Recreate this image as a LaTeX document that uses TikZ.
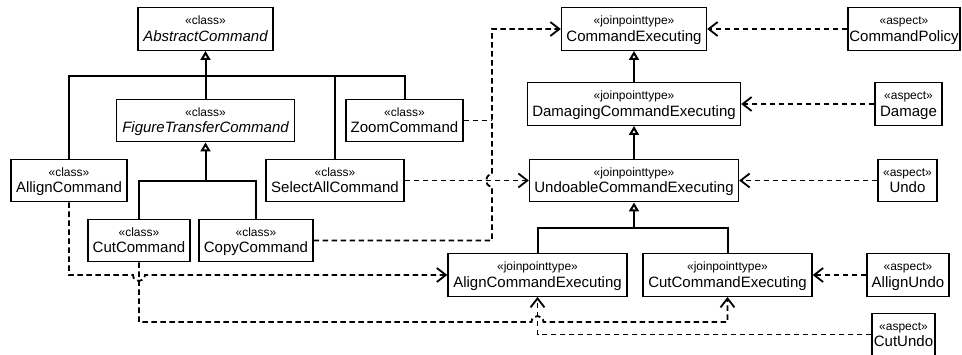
\documentclass[tikz,border=0pt]{standalone}
\usepackage{fontspec}
\setmainfont{Liberation Sans}
\usetikzlibrary{arrows.meta}
\newcommand{\stf}{\fontsize{12}{14}\selectfont}
\newcommand{\umltext}[2]{{\stf\smash{«#1»}\vphantom{A}}\\\smash{#2}}
\tikzset{
  umlbox/.style={draw, line width=1.4pt, inner sep=0pt, align=center,
    font=\fontsize{15}{16.5}\selectfont, minimum height=42.5},
  solidline/.style={line width=2pt},
  gen/.style={line width=2pt, -{Triangle[open, length=9pt, width=10pt]}},
  depline/.style={line width=1.8pt, dash pattern=on 5.5pt off 3.5pt},
  dep/.style={depline, -{Straight Barb[length=9pt, width=14pt]}}
}
\begin{document}
\begin{tikzpicture}[x=1pt, y=-1pt]
\clip (0,0) rectangle (962,354);
\fill[white] (0,0) rectangle (962,354);
% classes
\node[umlbox, minimum width=135] (abs) at (205.5,29) {\umltext{class}{\itshape AbstractCommand}};
\node[umlbox, minimum width=178] (ftc) at (205.5,120.5) {\umltext{class}{\itshape FigureTransferCommand}};
\node[umlbox, minimum width=116] (allign) at (69,180.5) {\umltext{class}{AllignCommand}};
\node[umlbox, minimum width=102] (cut) at (139,240.5) {\umltext{class}{CutCommand}};
\node[umlbox, minimum width=114] (copy) at (256,240.5) {\umltext{class}{CopyCommand}};
\node[umlbox, minimum width=138] (sel) at (335,180.5) {\umltext{class}{SelectAllCommand}};
\node[umlbox, minimum width=117] (zoom) at (404.5,120.5) {\umltext{class}{ZoomCommand}};
% joinpoint types
\node[umlbox, minimum width=145] (ce) at (634,29) {\umltext{joinpointtype}{CommandExecuting}};
\node[umlbox, minimum width=213] (dce) at (634,104) {\umltext{joinpointtype}{DamagingCommandExecuting}};
\node[umlbox, minimum width=209] (uce) at (634,180.5) {\umltext{joinpointtype}{UndoableCommandExecuting}};
\node[umlbox, minimum width=179] (ace) at (537.5,275) {\umltext{joinpointtype}{AlignCommandExecuting}};
\node[umlbox, minimum width=169] (cce) at (727.5,275) {\umltext{joinpointtype}{CutCommandExecuting}};
% aspects
\node[umlbox, minimum width=112] (pol) at (904,29) {\umltext{aspect}{CommandPolicy}};
\node[umlbox, minimum width=67] (dam) at (908.5,104) {\umltext{aspect}{Damage}};
\node[umlbox, minimum width=59] (undo) at (907.5,180.5) {\umltext{aspect}{Undo}};
\node[umlbox, minimum width=82] (aundo) at (908,275) {\umltext{aspect}{AllignUndo}};
\node[umlbox, minimum width=63] (cundo) at (903.5,334.5) {\umltext{aspect}{CutUndo}};
% generalization trees
\coordinate (j1) at (205.5,76);
\coordinate (j2) at (205.5,180.5);
\coordinate (j3) at (634,227.5);
\draw[gen] (ftc.north) -- (abs.south);
\draw[solidline] (allign.north) |- (zoom.north |- j1) -- (zoom.north);
\draw[solidline] (sel.north) -- (sel.north |- j1);
\draw[gen] (cut.north) |- (j2) -- (ftc.south);
\draw[solidline] (copy.north) |- (j2);
\draw[gen] (dce.north) -- (ce.south);
\draw[gen] (uce.north) -- (dce.south);
\draw[gen] (ace.north) |- (j3) -- (uce.south);
\draw[solidline] (cce.north) |- (j3);
% dependencies
\draw[dep] (pol.west) -- (ce.east);
\draw[dep] (dam.west) -- (dce.east);
\draw[dep] (undo.west) -- (uce.east);
\draw[dep] (aundo.west) -- (cce.east);
\draw[dep] (cundo.west) -| (ace.south);
\draw[dep] (cut.south) |- (531.5,322) .. controls (531.5,314) and (543.5,314) .. (543.5,322) -| (cce.south);
\draw[dep] (allign.south) |- (133,275) .. controls (133,283) and (145,283) .. (145,275) -- (ace.west);
\draw[dep] (sel.east) -- (uce.west);
\draw[dep] (copy.east) -- (492,240.5) -- (492,186.5) .. controls (484,186.5) and (484,174.5) .. (492,174.5) |- (ce.west);
\draw[depline] (zoom.east) -- (492,120.5);
\end{tikzpicture}
\end{document}
